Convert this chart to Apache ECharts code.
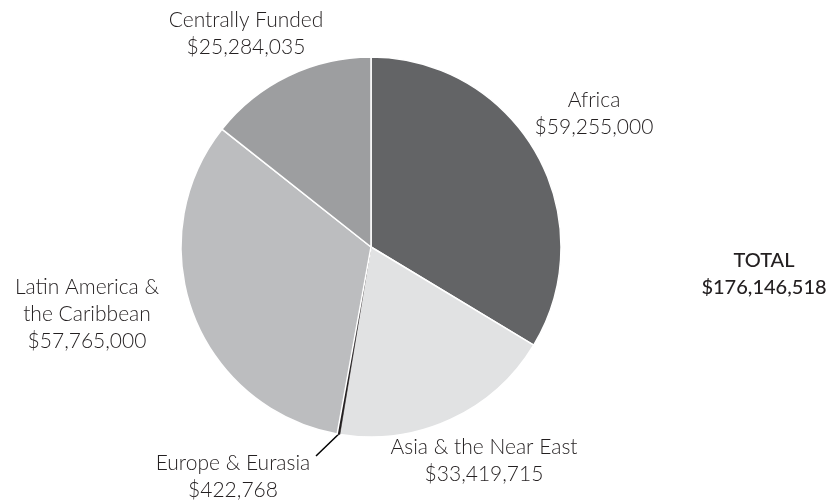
<!DOCTYPE html>
<html>
<head>
<meta charset="utf-8">
<script src="https://cdn.jsdelivr.net/npm/echarts@6/dist/echarts.min.js"></script>
<style>html,body{margin:0;padding:0;background:#fff}#c{width:835px;height:500px}</style>
</head>
<body>
<div id="c"></div>
<script>
var categories = ['Africa', 'Asia & the Near East', 'Europe & Eurasia', 'Latin America &\nthe Caribbean', 'Centrally Funded'];
var values = [59255000, 33419715, 422768, 57765000, 25284035];
var colors = ['#636466', '#e1e2e3', '#231f20', '#bcbdbf', '#9d9ea0'];
var totalLabel = 'TOTAL';

var CX = 371, CY = 247, R = 190;
var labelPos = [[594, 113.5], [484, 460.5], [233, 476.5], [87, 314], [246, 34]];

function money(v) { return '$' + v.toLocaleString('en-US'); }
var total = values.reduce(function (a, b) { return a + b; }, 0);

var before = values[0] + values[1];
var midA = (before + values[2] / 2) / total * 2 * Math.PI;
var rimX = CX + R * Math.sin(midA), rimY = CY - R * Math.cos(midA);

var chart = echarts.init(document.getElementById('c'), null, { renderer: 'canvas' });
chart.setOption({
  animation: false,
  graphic: [{
    type: 'text', x: 764, y: 274.5,
    style: {
      text: totalLabel + '\n' + money(total),
      align: 'center', verticalAlign: 'middle',
      font: '500 20px Lato', lineHeight: 27, fill: '#231f20'
    }
  }],
  series: [{
    type: 'pie',
    center: [CX, CY],
    radius: [0, R],
    startAngle: 90,
    clockwise: true,
    avoidLabelOverlap: false,
    emphasis: { disabled: true },
    itemStyle: { borderColor: '#fff', borderWidth: 1.5 },
    label: {
      show: true,
      position: 'outside',
      formatter: function (p) { return p.name + '\n' + money(p.value); },
      fontFamily: 'Lato', fontWeight: 300, fontSize: 21, lineHeight: 27, color: '#231f20', align: 'center'
    },
    labelLine: { show: false },
    labelLayout: function (p) {
      var pos = labelPos[p.dataIndex];
      var o = { x: pos[0], y: pos[1], align: 'center', verticalAlign: 'middle' };
      if (p.dataIndex === 2) {
        o.labelLinePoints = [[rimX, rimY], [316, 456], [316, 456]];
      }
      return o;
    },
    data: values.map(function (v, i) {
      var d = { name: categories[i], value: v, itemStyle: { color: colors[i] } };
      if (i === 2) {
        d.itemStyle.borderWidth = 0.5;
        d.itemStyle.borderColor = '#231f20';
        d.labelLine = { show: true, lineStyle: { color: '#000', width: 1.5 } };
      }
      return d;
    })
  }]
});
</script>
</body>
</html>
